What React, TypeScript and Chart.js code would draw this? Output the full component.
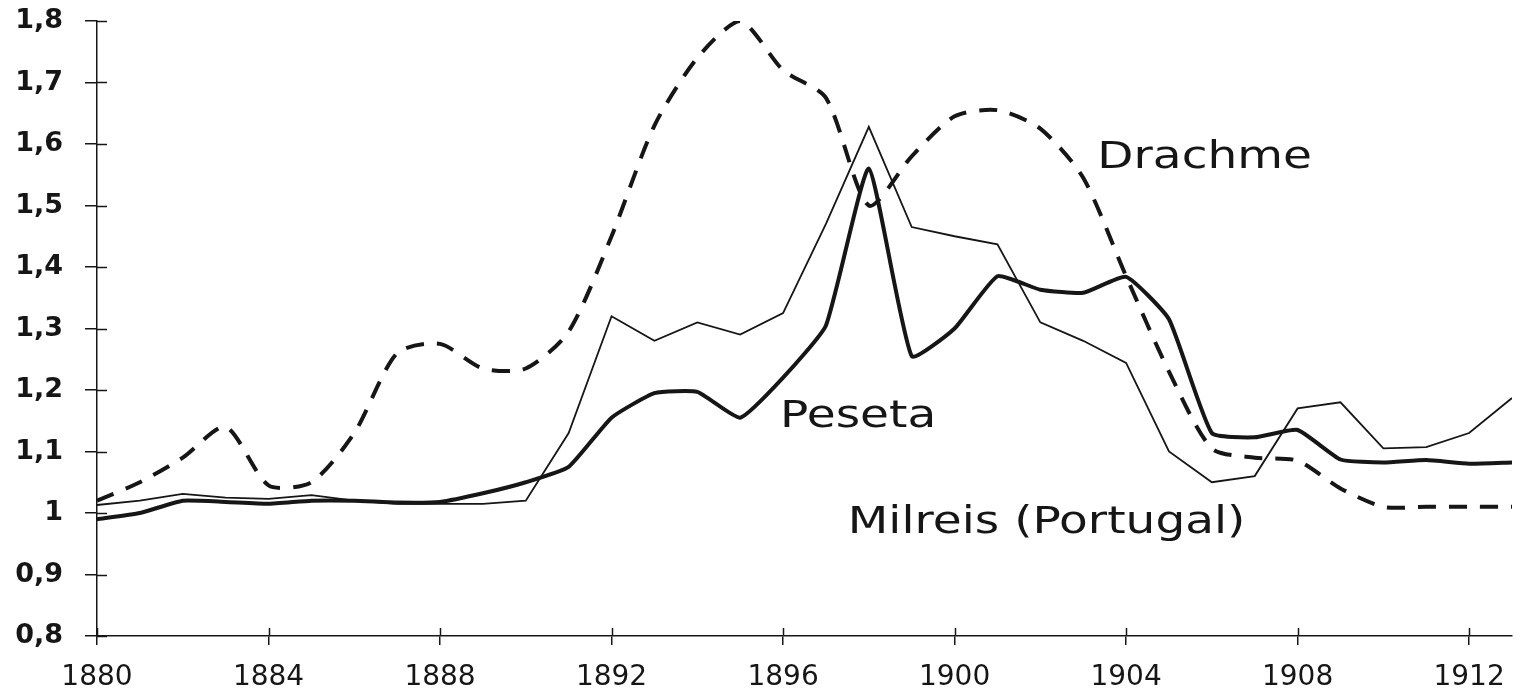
import React, { useEffect, useRef } from "react";
import { Chart, registerables } from "chart.js";

Chart.register(...registerables);

const years = [
  1880, 1881, 1882, 1883, 1884, 1885, 1886, 1887, 1888, 1889, 1890, 1891,
  1892, 1893, 1894, 1895, 1896, 1897, 1898, 1899, 1900, 1901, 1902, 1903,
  1904, 1905, 1906, 1907, 1908, 1909, 1910, 1911, 1912, 1913,
];

const drachme = [
  1.02, 1.05, 1.09, 1.14, 1.045, 1.05, 1.13, 1.26, 1.275, 1.235, 1.235, 1.295,
  1.45, 1.63, 1.74, 1.8, 1.72, 1.675, 1.5, 1.58, 1.645, 1.655, 1.625, 1.545,
  1.385, 1.23, 1.105, 1.09, 1.085, 1.04, 1.01, 1.01, 1.01, 1.01,
];

const peseta = [
  0.99, 1.0, 1.02, 1.018, 1.015, 1.02, 1.02, 1.017, 1.018, 1.032, 1.05, 1.075,
  1.155, 1.195, 1.197, 1.155, 1.22, 1.305, 1.56, 1.255, 1.3, 1.385, 1.363,
  1.358, 1.384, 1.315, 1.13, 1.123, 1.135, 1.087, 1.082, 1.086, 1.08, 1.082,
];

const milreis = [
  1.013, 1.02, 1.031, 1.025, 1.023, 1.029, 1.02, 1.015, 1.015, 1.015, 1.02,
  1.13, 1.32, 1.28, 1.31, 1.29, 1.325, 1.47, 1.628, 1.465, 1.45, 1.437, 1.31,
  1.28, 1.244, 1.1, 1.05, 1.06, 1.17, 1.18, 1.105, 1.107, 1.13, 1.187,
];

const yTickLabels = ["0,8", "0,9", "1", "1,1", "1,2", "1,3", "1,4", "1,5", "1,6", "1,7", "1,8"];
const xTickYears = [1880, 1884, 1888, 1892, 1896, 1900, 1904, 1908, 1912];

const seriesLabels = ["Drachme", "Peseta", "Milreis (Portugal)"];
const labelAnchorsX = [1903.33, 1895.93, 1897.51];
const labelAnchorsY = [1.561, 1.14, 0.967];

const INK = "#161616";

const overlayPlugin = {
  id: "overlay",
  afterDraw(chart: any) {
    const { ctx, scales } = chart;
    const xs = scales.x;
    const ys = scales.y;
    ctx.save();
    ctx.strokeStyle = INK;
    ctx.lineWidth = 1.5;
    // inner half of the crossing tick marks
    ys.ticks.forEach((t: any) => {
      const py = Math.round(ys.getPixelForValue(t.value)) + 0.5;
      ctx.beginPath();
      ctx.moveTo(xs.left, py);
      ctx.lineTo(xs.left + 10, py);
      ctx.stroke();
    });
    xs.ticks.forEach((t: any) => {
      const px = Math.round(xs.getPixelForValue(t.value)) + 0.5;
      ctx.beginPath();
      ctx.moveTo(px, ys.bottom);
      ctx.lineTo(px, ys.bottom - 8);
      ctx.stroke();
    });
    // series labels
    ctx.fillStyle = INK;
    ctx.font = '37px "DejaVu Sans"';
    ctx.textBaseline = "alphabetic";
    ctx.textAlign = "left";
    seriesLabels.forEach((txt, i) => {
      const px = xs.getPixelForValue(labelAnchorsX[i]);
      const py = ys.getPixelForValue(labelAnchorsY[i]);
      ctx.save();
      ctx.translate(px, py);
      ctx.scale(1.27, 1);
      ctx.fillText(txt, 0, 0);
      ctx.restore();
    });
    ctx.restore();
  },
};

export default function App() {
  const ref = useRef<HTMLCanvasElement | null>(null);

  useEffect(() => {
    if (!ref.current) return;
    const chart = new Chart(ref.current, {
      type: "line",
      data: {
        datasets: [
          {
            label: "Drachme",
            data: years.map((yr, i) => ({ x: yr, y: drachme[i] })),
            borderColor: INK,
            borderWidth: 4,
            borderDash: [18, 13],
            pointRadius: 0,
            tension: 0.25,
            fill: false,
          },
          {
            label: "Peseta",
            data: years.map((yr, i) => ({ x: yr, y: peseta[i] })),
            borderColor: INK,
            borderWidth: 4,
            pointRadius: 0,
            tension: 0.15,
            fill: false,
          },
          {
            label: "Milreis (Portugal)",
            data: years.map((yr, i) => ({ x: yr, y: milreis[i] })),
            borderColor: INK,
            borderWidth: 1.8,
            pointRadius: 0,
            tension: 0,
            fill: false,
          },
        ],
      },
      options: {
        animation: false,
        responsive: true,
        maintainAspectRatio: false,
        layout: { padding: { left: 0, right: 8, top: 21, bottom: 0 } },
        plugins: {
          legend: { display: false },
          tooltip: { enabled: false },
        },
        scales: {
          x: {
            type: "linear",
            min: 1880,
            max: 1913,
            afterBuildTicks: (scale: any) => {
              scale.ticks = xTickYears.map((v) => ({ value: v }));
            },
            afterFit: (scale: any) => {
              scale.height = 57;
              scale.paddingLeft = 0;
              scale.paddingRight = 0;
            },
            grid: {
              display: true,
              drawOnChartArea: false,
              drawTicks: true,
              tickLength: 9,
              color: INK,
              lineWidth: 1.5,
            },
            border: { display: true, color: INK, width: 1.5 },
            ticks: {
              autoSkip: false,
              maxRotation: 0,
              padding: 16,
              color: INK,
              font: { family: "DejaVu Sans", size: 28 },
              callback: (v: any) => String(v),
            },
          },
          y: {
            type: "linear",
            min: 0.8,
            max: 1.8,
            afterBuildTicks: (scale: any) => {
              scale.ticks = yTickLabels.map((_, i) => ({ value: 0.8 + i * 0.1 }));
            },
            afterFit: (scale: any) => {
              scale.width = 97;
              scale.paddingTop = 0;
              scale.paddingBottom = 0;
            },
            grid: {
              display: true,
              drawOnChartArea: false,
              drawTicks: true,
              tickLength: 12,
              color: INK,
              lineWidth: 1.5,
            },
            border: { display: true, color: INK, width: 1.5 },
            ticks: {
              autoSkip: false,
              padding: 22,
              color: INK,
              font: { family: "DejaVu Sans", size: 27, weight: "bold" },
              callback: (_v: any, i: number) => yTickLabels[i],
            },
          },
        },
      },
      plugins: [overlayPlugin],
    });
    return () => chart.destroy();
  }, []);

  return (
    <div
      style={{
        position: "fixed",
        left: 0,
        top: 0,
        width: 1520,
        height: 693,
        background: "#fff",
      }}
    >
      <canvas ref={ref} />
    </div>
  );
}
